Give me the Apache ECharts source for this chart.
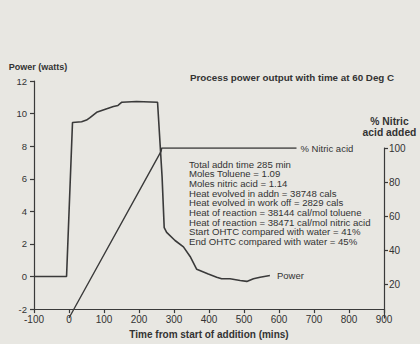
<!DOCTYPE html>
<html>
<head>
<meta charset="utf-8">
<script src="https://cdn.jsdelivr.net/npm/echarts@6/dist/echarts.min.js"></script>
<style>
  html, body { margin: 0; padding: 0; background: #e8e7e2; }
  #chart { width: 420px; height: 344px; }
</style>
</head>
<body>
<div id="chart"></div>
<script>
// Power trace (time in mins, watts)
const powerTime = [-100, -7, 10, 36, 50, 60, 79, 108, 127, 140, 151, 193, 253, 266, 272, 279, 303, 327, 346, 365, 398, 422, 436, 460, 489, 508, 527, 546, 574];
const powerValue = [0, 0, 9.45, 9.5, 9.6, 9.75, 10.08, 10.3, 10.43, 10.5, 10.7, 10.74, 10.7, 6.1, 3.0, 2.71, 2.21, 1.82, 1.23, 0.44, 0.15, -0.04, -0.14, -0.14, -0.24, -0.3, -0.14, -0.04, 0.06];

// Nitric acid added (time in mins, %)
const nitricTime = [0, 263, 265, 650];
const nitricValue = [0, 98, 100, 100];

const xTicks = { min: -100, max: 900, step: 100 };
const powerTicks = { min: -2, max: 12, step: 2 };
const nitricTicks = { min: 0, max: 100, step: 20 };

const notes = [
  "Total addn time 285 min",
  "Moles Toluene = 1.09",
  "Moles nitric acid = 1.14",
  "Heat evolved in addn = 38748 cals",
  "Heat evolved in work off = 2829 cals",
  "Heat of reaction = 38144 cal/mol toluene",
  "Heat of reaction = 38471 cal/mol nitric acid",
  "Start OHTC compared with water = 41%",
  "End OHTC compared with water = 45%"
];

const ink = "#3a3a3a";
const font = "Liberation Sans";

const chart = echarts.init(document.getElementById("chart"), null, { renderer: "svg" });

const axisCommon = {
  axisLine: { onZero: false, lineStyle: { color: ink, width: 1.2 } },
  axisTick: { length: 4, lineStyle: { color: ink, width: 1.2 } },
  splitLine: { show: false },
  axisLabel: { color: "#333", fontSize: 10, fontFamily: font }
};

chart.setOption({
  backgroundColor: "#e8e7e2",
  animation: false,
  textStyle: { fontFamily: font },
  title: {
    text: "Process power output with time at 60 Deg C",
    left: 190,
    top: 72,
    padding: 0,
    textStyle: { fontSize: 9.8, fontWeight: "bold", color: "#333", fontFamily: font }
  },
  grid: [
    { left: 34, right: 36, top: 81, bottom: 26 },
    { left: 34, right: 36, top: 148, bottom: 26 }
  ],
  xAxis: [
    {
      ...axisCommon,
      gridIndex: 0,
      type: "value",
      min: xTicks.min,
      max: xTicks.max,
      interval: xTicks.step,
      axisLabel: { ...axisCommon.axisLabel, margin: 5 },
      name: "Time from start of addition (mins)",
      nameLocation: "middle",
      nameGap: 19,
      nameTextStyle: { fontSize: 10, fontWeight: "bold", color: "#333", fontFamily: font }
    },
    {
      gridIndex: 1,
      type: "value",
      min: xTicks.min,
      max: xTicks.max,
      show: false
    }
  ],
  yAxis: [
    {
      ...axisCommon,
      gridIndex: 0,
      type: "value",
      min: powerTicks.min,
      max: powerTicks.max,
      interval: powerTicks.step,
      axisLabel: { ...axisCommon.axisLabel, fontSize: 9.5, margin: 7 },
      name: "Power (watts)",
      nameLocation: "end",
      nameGap: 10,
      nameTextStyle: { fontSize: 9, fontWeight: "bold", color: "#333", fontFamily: font, padding: [0, 0, 0, 8] }
    },
    {
      ...axisCommon,
      gridIndex: 1,
      type: "value",
      position: "right",
      min: nitricTicks.min,
      max: nitricTicks.max,
      interval: nitricTicks.step,
      axisLabel: { ...axisCommon.axisLabel, margin: 5, showMinLabel: false },
      name: "% Nitric\nacid added",
      nameLocation: "end",
      nameGap: 10,
      nameTextStyle: { fontSize: 10.3, fontWeight: "bold", color: "#333", fontFamily: font, lineHeight: 11, align: "center", padding: [0, 0, 0, 11] }
    }
  ],
  series: [
    {
      name: "Power",
      type: "line",
      xAxisIndex: 0,
      yAxisIndex: 0,
      data: powerTime.map((t, i) => [t, powerValue[i]]),
      showSymbol: false,
      lineStyle: { color: ink, width: 1.6 },
      endLabel: { show: true, formatter: "Power", distance: 7, fontSize: 9.5, color: "#333", fontFamily: font }
    },
    {
      name: "% Nitric acid",
      type: "line",
      xAxisIndex: 1,
      yAxisIndex: 1,
      data: nitricTime.map((t, i) => [t, nitricValue[i]]),
      showSymbol: false,
      lineStyle: { color: ink, width: 1.4 },
      endLabel: { show: true, formatter: "% Nitric acid", distance: 4, fontSize: 9.5, color: "#333", fontFamily: font }
    }
  ],
  graphic: [
    {
      type: "text",
      left: 189,
      top: 159,
      style: {
        text: notes.join("\n"),
        fontSize: 9.6,
        fontFamily: font,
        lineHeight: 9.7,
        fill: "#333"
      }
    }
  ]
});

window.addEventListener("resize", () => chart.resize());
</script>
</body>
</html>
